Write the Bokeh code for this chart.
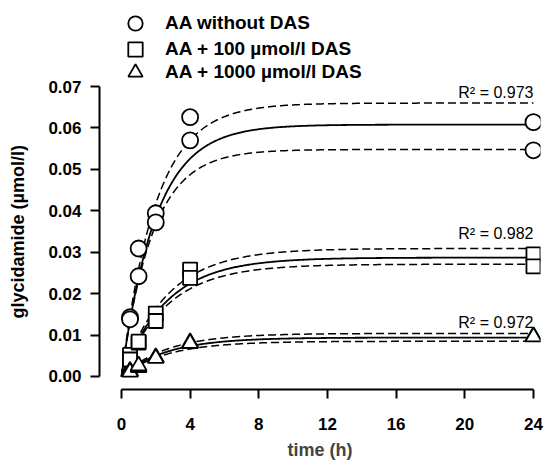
import numpy as np
from bokeh.plotting import figure
from bokeh.models import (Range1d, FixedTicker, Legend, LegendItem, Title,
                          PrintfTickFormatter)
from bokeh.core.properties import value
from bokeh.embed import file_html
from bokeh.resources import INLINE

# ---------------- data ----------------
times = [0.5, 0.5, 1, 1, 2, 2, 4, 4, 24, 24]
aa_without = [0.0143, 0.0138, 0.0242, 0.0309, 0.0394, 0.0372, 0.0626, 0.0570, 0.0614, 0.0546]
aa_100 = [0.0052, 0.0041, 0.0082, 0.0084, 0.0152, 0.0134, 0.0258, 0.0238, 0.0295, 0.0266]
aa_1000 = [0.0013, 0.0011, 0.0022, 0.0026, 0.0046, 0.0044, 0.0082, 0.0080, 0.0097, 0.0096]

series_names = ["AA without DAS", "AA + 100 µmol/l DAS", "AA + 1000 µmol/l DAS"]
series_markers = ["circle", "square", "triangle"]

# fitted first-order model y = plateau * (1 - exp(-k t)): fit, lower, upper band
fit_plateau = [0.0608, 0.0287, 0.0094]
fit_rate = [0.50, 0.38, 0.38]
lower_plateau = [0.0548, 0.0271, 0.0085]
lower_rate = [0.55, 0.38, 0.38]
upper_plateau = [0.0660, 0.0309, 0.0104]
upper_rate = [0.50, 0.38, 0.38]

r2_labels = ["R² = 0.973", "R² = 0.982", "R² = 0.972"]
r2_y = [0.0686, 0.0345, 0.0130]

x_ticks = [0, 4, 8, 12, 16, 20, 24]
y_ticks = [0.00, 0.01, 0.02, 0.03, 0.04, 0.05, 0.06, 0.07]

FONT = "Liberation Sans"

# ---------------- figure ----------------
p = figure(width=544, height=469, output_backend="svg", toolbar_location=None,
           x_range=Range1d(-1.278, 24.41), y_range=Range1d(-0.003138, 0.09076),
           min_border_left=98, min_border_right=4, min_border_top=0, min_border_bottom=80)
p.outline_line_color = None
p.grid.visible = False
p.background_fill_color = "white"

# axes
for ax in (p.xaxis[0], p.yaxis[0]):
    ax.axis_line_width = 2
    ax.major_tick_line_width = 2
    ax.major_tick_out = 9
    ax.major_tick_in = 0
    ax.minor_tick_out = 0
    ax.minor_tick_in = 0
    ax.major_label_text_font = FONT
    ax.major_label_text_font_style = "bold"
    ax.major_label_text_font_size = "17px"
    ax.major_label_text_color = "black"
    ax.axis_line_color = "black"
    ax.major_tick_line_color = "black"

p.xaxis[0].ticker = FixedTicker(ticks=x_ticks)
p.xaxis[0].bounds = (0, 24)
p.xaxis[0].major_label_standoff = 19
p.xaxis[0].axis_label = "time (h)"
p.xaxis[0].axis_label_text_font = FONT
p.xaxis[0].axis_label_text_font_style = "bold"
p.xaxis[0].axis_label_text_font_size = "18px"
p.xaxis[0].axis_label_standoff = 7

p.yaxis[0].ticker = FixedTicker(ticks=y_ticks)
p.yaxis[0].bounds = (0, 0.07)
p.yaxis[0].formatter = PrintfTickFormatter(format="%.2f")
p.yaxis[0].major_label_standoff = 9
# invisible spacer label to push the axis title outward
p.yaxis[0].axis_label = "\u00a0"
p.yaxis[0].axis_label_text_font_size = "2px"
p.yaxis[0].axis_label_standoff = 8

# y-axis title, positioned along the 0..0.07 span
p.add_layout(Title(text="glycidamide (µmol/l)", align="left", offset=71,
                   text_font=FONT, text_font_style="bold", text_font_size="18px",
                   text_color="black"), "left")

# curves
tt = np.linspace(0, 24, 400)
for i in range(3):
    fit = fit_plateau[i] * (1 - np.exp(-fit_rate[i] * tt))
    lo = lower_plateau[i] * (1 - np.exp(-lower_rate[i] * tt))
    hi = upper_plateau[i] * (1 - np.exp(-upper_rate[i] * tt))
    p.line(tt, lo, line_color="black", line_width=1.5, line_dash="8 4")
    p.line(tt, hi, line_color="black", line_width=1.5, line_dash="8 4")
    p.line(tt, fit, line_color="black", line_width=1.8)

# points
renderers = []
for vals, mk, sz in zip([aa_without, aa_100, aa_1000], series_markers, [16, 14, 16]):
    r = p.scatter(times, vals, marker=mk, size=sz, fill_color="white",
                  line_color="black", line_width=1.8)
    renderers.append(r)

# R^2 labels
p.text(x=[24, 24, 24], y=r2_y, text=r2_labels, text_align="right",
       text_baseline="middle", text_font=value(FONT), text_font_size="16px",
       text_color="black")

# legend: one single-item legend per row (tight row pitch)
row_offsets = [348, 322, 299]
for name, r, yoff in zip(series_names, renderers, row_offsets):
    lg = Legend(items=[LegendItem(label=name, renderers=[r])], location=(18, yoff))
    lg.background_fill_alpha = 0
    lg.border_line_alpha = 0
    lg.padding = 0
    lg.margin = 0
    lg.glyph_width = 36
    lg.glyph_height = 36
    lg.label_height = 36
    lg.label_standoff = 12
    lg.label_text_font = FONT
    lg.label_text_font_style = "bold"
    lg.label_text_font_size = "19px"
    lg.label_text_color = "black"
    p.add_layout(lg, "center")

open("out.html", "w").write(file_html(p, INLINE))
